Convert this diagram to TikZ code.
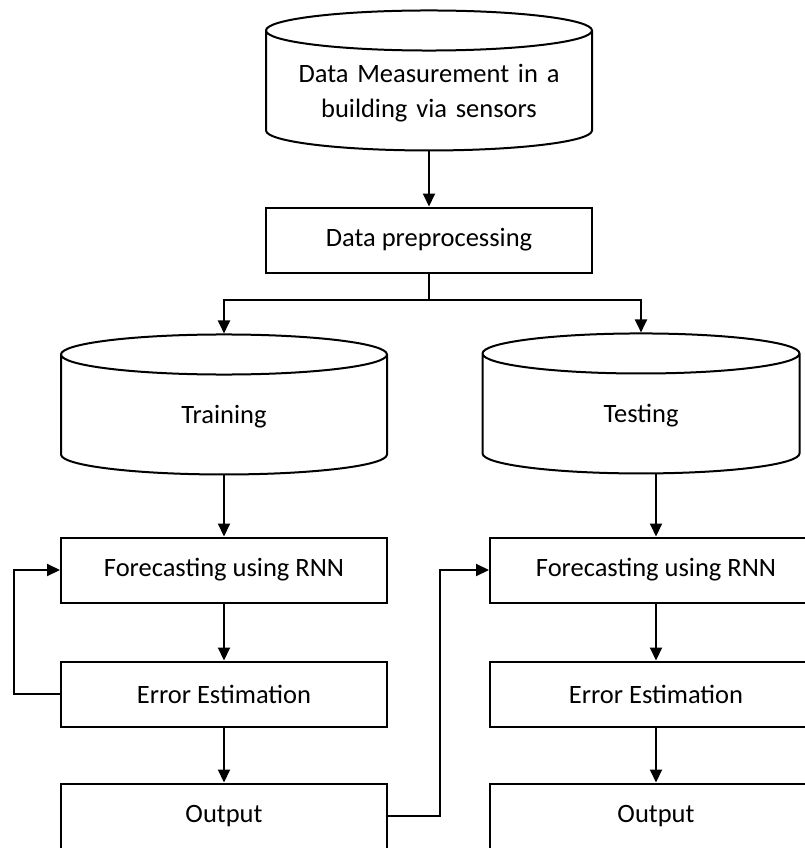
\documentclass[tikz,border=0pt]{standalone}
\usepackage{fontspec}
\setmainfont{Carlito}
\usetikzlibrary{arrows.meta,positioning,shapes.geometric}

\begin{document}
\begin{tikzpicture}[x=1pt, y=-1pt, line width=2pt,
    >={Triangle[length=13pt,width=12pt]},
    box/.style={draw, rectangle, minimum width=326pt, minimum height=65pt, font=\fontsize{26.5}{35}\selectfont},
    store/.style={draw, cylinder, shape border rotate=90, aspect=0.135, minimum width=326pt, minimum height=140pt,
        text width=290pt, align=center, font=\fontsize{26.5}{35}\selectfont}]

    \useasboundingbox (0,0) rectangle (805,848);

    % Define nodes
    \node (meas) [store] at (429,93) {Data Measurement in a\\building via sensors};
    \node (prep) [box] at (429,240) {Data preprocessing};
    \node (train) [store] at (224,417) {Training};
    \node (test) [store, minimum width=317pt] at (641,416) {Testing};

    \node (fcA) [box] at (224,570) {Forecasting using RNN};
    \node (errA) [box, below of=fcA, node distance=124pt] {Error Estimation};
    \node (outA) [box, below of=errA, node distance=122pt] {Output};

    \node (fcB) [box, minimum width=332pt] at (656,570) {Forecasting using RNN};
    \node (errB) [box, minimum width=332pt, below of=fcB, node distance=124pt] {Error Estimation};
    \node (outB) [box, minimum width=332pt, below of=errB, node distance=122pt] {Output};

    % Top part
    \draw[->] (meas) -- (prep);
    \coordinate (split) at (429,300);
    \draw (prep.south) -- (split);
    \draw[->] (split) -| (train.north);
    \draw[->] (split) -| (test.north);

    % Training column
    \draw[->] (train) -- (fcA);
    \draw[->] (fcA) -- (errA);
    \draw[->] (errA) -- (outA);
    \draw[->] (errA.west) -- ++(-46,0) |- (fcA.west);

    % Testing column
    \draw[->] (fcB.north |- test.south) -- (fcB.north);
    \draw[->] (fcB) -- (errB);
    \draw[->] (errB) -- (outB);
    \draw[->] (outA.east) -- ++(52,0) |- (fcB.west);

\end{tikzpicture}
\end{document}
